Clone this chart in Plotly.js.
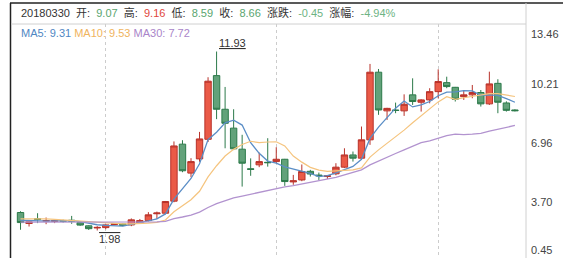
<!DOCTYPE html>
<html><head><meta charset="utf-8">
<script src="https://cdn.plot.ly/plotly-3.0.1.min.js"></script>
<style>html,body{margin:0;padding:0;background:#fff;}#chart{width:563px;height:258px;}</style>
</head><body><div id="chart"></div>
<script>
// trading-day index (index 57 = 20180330)
const days = [0,1,2,3,4,5,6,7,8,9,10,11,12,13,14,15,16,17,18,19,20,21,22,23,24,25,26,27,28,29,30,31,32,33,34,35,36,37,38,39,40,41,42,43,44,45,46,47,48,49,50,51,52,53,54,55,56,57,58];
const openP = [2.98,2.37,2.63,2.50,2.48,2.52,2.55,2.42,2.24,2.12,2.14,2.31,2.34,2.29,2.40,2.53,2.91,2.94,3.61,6.78,5.17,5.96,7.05,10.59,8.72,7.67,6.50,5.41,5.63,5.77,5.81,5.94,4.68,4.79,5.27,5.06,4.98,5.13,5.50,6.18,6.00,7.02,10.78,8.63,8.68,8.63,9.52,9.11,9.24,9.70,10.20,9.94,9.42,9.52,9.65,9.02,10.16,9.07,8.68];
const highP = [3.05,2.48,2.94,2.70,2.61,2.58,2.79,2.44,2.27,2.22,2.32,2.38,2.36,2.65,2.62,3.00,3.03,3.62,6.93,7.00,6.00,7.46,10.50,11.93,9.96,8.72,7.30,5.99,6.31,7.11,6.61,5.96,5.07,5.65,5.35,5.20,5.05,5.72,6.55,6.37,7.76,11.24,10.96,8.80,9.09,9.55,10.44,9.28,9.89,10.94,10.53,9.96,9.76,10.07,9.79,10.81,10.39,9.16,8.72];
const lowP = [2.02,2.20,2.39,2.33,2.39,2.42,2.35,2.24,2.01,1.98,2.05,2.28,2.22,2.22,2.35,2.48,2.62,2.88,3.55,5.22,4.94,5.80,6.90,8.17,6.55,6.45,4.42,5.02,5.50,5.53,5.72,4.46,4.52,4.72,4.98,4.79,4.84,5.05,5.45,5.81,5.90,6.74,8.41,8.13,8.50,8.35,8.96,8.59,9.05,9.33,9.89,9.15,9.24,9.33,8.87,8.96,8.50,8.59,8.60];
const closeP = [2.42,2.46,2.60,2.53,2.53,2.50,2.50,2.28,2.08,2.15,2.29,2.34,2.26,2.57,2.53,2.85,2.95,3.59,6.68,5.30,5.81,7.07,10.28,8.72,7.94,6.52,5.72,5.38,5.81,5.75,5.94,4.70,4.74,5.26,5.12,5.02,5.02,5.50,6.18,6.00,7.02,10.78,8.68,8.77,8.65,9.00,9.15,9.24,9.70,10.26,9.98,9.28,9.52,9.65,9.02,10.13,9.11,8.66,8.64];
const ma5 = [2.55,2.52,2.52,2.50,2.51,2.52,2.53,2.47,2.38,2.30,2.26,2.23,2.22,2.32,2.40,2.51,2.63,2.90,3.72,4.27,4.87,5.69,7.03,7.44,7.96,8.11,7.84,6.86,6.27,5.84,5.72,5.52,5.39,5.28,5.15,4.97,5.03,5.18,5.37,5.54,5.94,7.10,7.73,8.25,8.78,9.18,8.85,8.96,9.15,9.47,9.67,9.69,9.75,9.74,9.49,9.52,9.49,9.31,9.11];
const ma10 = [2.62,2.63,2.63,2.62,2.60,2.57,2.54,2.50,2.45,2.41,2.39,2.38,2.35,2.35,2.35,2.39,2.43,2.56,3.02,3.34,3.69,4.16,4.96,5.58,6.12,6.49,6.76,6.94,6.86,6.90,6.91,6.68,6.12,5.78,5.49,5.34,5.27,5.29,5.32,5.35,5.46,6.06,6.46,6.81,7.16,7.56,7.97,8.35,8.70,9.13,9.42,9.27,9.36,9.44,9.48,9.59,9.59,9.53,9.43];
const ma30 = [2.45,2.45,2.45,2.46,2.46,2.46,2.46,2.46,2.44,2.43,2.43,2.43,2.42,2.42,2.43,2.44,2.46,2.49,2.64,2.73,2.84,3.00,3.26,3.47,3.65,3.79,3.89,3.99,4.10,4.21,4.33,4.41,4.48,4.57,4.65,4.74,4.82,4.93,5.07,5.20,5.35,5.63,5.85,6.05,6.26,6.46,6.67,6.86,6.96,7.12,7.26,7.34,7.31,7.34,7.38,7.50,7.61,7.72,7.82];
const yTickVals = [13.46,10.21,6.96,3.70,0.45];
const yTickText = ['13.46','10.21','6.96','3.70','0.45'];
const gridDays = [10,30,49];
const headerDate = '20180330';
const headerLabels = ['开','高','低','收','涨跌','涨幅'];
const headerValues = ['9.07','9.16','8.59','8.66','-0.45','-4.94%'];
const maNames = ['MA5','MA10','MA30'];
const maValues = ['9.31','9.53','7.72'];
const hiIdx = 23, hiVal = '11.93';
const loIdx = 9, loVal = '1.98';

const FONT = 'Liberation Sans, Noto Sans CJK SC, sans-serif';
const GREEN_T = '#5aa56f', RED_T = '#e0463b';
const headerColors = [GREEN_T, RED_T, GREEN_T, GREEN_T, '#6db383', '#6db383'];
const maColors = ['#4f87c3', '#f0b45e', '#a985c9'];

const W = 563, H = 258, L = 12, R = 37, T = 24, B = 0;
const pw = W - L - R, ph = H - T - B;
const px = x => (x - L) / pw;
const py = y => (H - B - y) / ph;

const NB = '\u00a0';
let header = '<span style="color:#333">' + headerDate + '</span>';
headerLabels.forEach((lab, i) => {
  header += NB + NB + '<span style="color:#333">' + lab + ':' + NB + NB + '</span><span style="color:' + headerColors[i] + '">' + headerValues[i] + '</span>';
});
let maText = maNames.map((n, i) => '<span style="color:' + maColors[i] + '">' + n + ': ' + maValues[i] + '</span>').join(NB);

const traces = [
  {type: 'candlestick', x: days, open: openP, high: highP, low: lowP, close: closeP,
   increasing: {line: {color: '#b8322a', width: 1}, fillcolor: '#ea5a47'},
   decreasing: {line: {color: '#2c7a4a', width: 1}, fillcolor: '#62a27a'},
   whiskerwidth: 0, hoverinfo: 'skip'},
  {type: 'scatter', mode: 'lines', x: days, y: ma5, line: {color: '#5b8ec6', width: 1.3}, hoverinfo: 'skip'},
  {type: 'scatter', mode: 'lines', x: days, y: ma10, line: {color: '#f5c47e', width: 1.2}, hoverinfo: 'skip'},
  {type: 'scatter', mode: 'lines', x: days, y: ma30, line: {color: '#b293cf', width: 1.3}, hoverinfo: 'skip'}
];

const annotations = [
  {xref: 'paper', yref: 'paper', x: px(19), y: py(13), xanchor: 'left', yanchor: 'middle', showarrow: false,
   text: header, font: {family: FONT, size: 11, color: '#333'}},
  {xref: 'paper', yref: 'paper', x: px(19), y: py(33), xanchor: 'left', yanchor: 'middle', showarrow: false,
   text: maText, font: {family: FONT, size: 11}},
  {xref: 'x', yref: 'y', x: days[hiIdx], y: highP[hiIdx], xanchor: 'left', yanchor: 'bottom', showarrow: false,
   text: '<span style="text-decoration:underline">' + hiVal + '</span>', font: {family: FONT, size: 11, color: '#333'}, yshift: 1},
  {xref: 'x', yref: 'y', x: days[loIdx], y: lowP[loIdx], xanchor: 'left', yanchor: 'top', showarrow: false,
   text: '<span style="text-decoration:overline">' + loVal + '</span>', font: {family: FONT, size: 11, color: '#333'}, yshift: -1}
];
yTickVals.forEach((v, i) => {
  const a = {xref: 'paper', yref: 'y', x: px(529), y: v, xanchor: 'left', showarrow: false,
    text: yTickText[i], font: {family: FONT, size: 11, color: '#444'}};
  if (i === 0) { a.yanchor = 'top'; a.yshift = -2; }
  else if (i === yTickVals.length - 1) { a.yanchor = 'bottom'; a.yshift = 0; }
  else { a.yanchor = 'middle'; a.yshift = -2; }
  annotations.push(a);
});

const shapes = [
  {type: 'line', xref: 'paper', yref: 'paper', x0: px(10), x1: px(563), y0: py(3), y1: py(3), line: {color: '#222', width: 1.5}},
  {type: 'line', xref: 'paper', yref: 'paper', x0: px(10.5), x1: px(10.5), y0: py(258), y1: py(3), line: {color: '#222', width: 1.5}},
  {type: 'line', xref: 'paper', yref: 'paper', x0: px(11), x1: 1, y0: 1, y1: 1, line: {color: '#d0d0d0', width: 1}},
  {type: 'line', xref: 'paper', yref: 'paper', x0: 1, x1: 1, y0: 0, y1: py(3), line: {color: '#d0d0d0', width: 1}}
];

const layout = {
  width: W, height: H, margin: {l: L, r: R, t: T, b: B, pad: 0},
  paper_bgcolor: '#fff', plot_bgcolor: '#fff', showlegend: false, dragmode: false,
  boxgap: 0.25, boxgroupgap: 0,
  xaxis: {range: [-1.0, 59.3], rangeslider: {visible: false}, showticklabels: false, ticks: '',
    tickmode: 'array', tickvals: gridDays, showgrid: true, gridcolor: '#cccccc', griddash: 'dot', gridwidth: 1,
    zeroline: false, showline: false, fixedrange: true},
  yaxis: {range: [0.45, 13.46], showticklabels: false, showgrid: false, zeroline: false, showline: false, ticks: '', fixedrange: true},
  annotations: annotations, shapes: shapes
};
Plotly.newPlot('chart', traces, layout, {displayModeBar: false, staticPlot: true});
</script></body></html>
